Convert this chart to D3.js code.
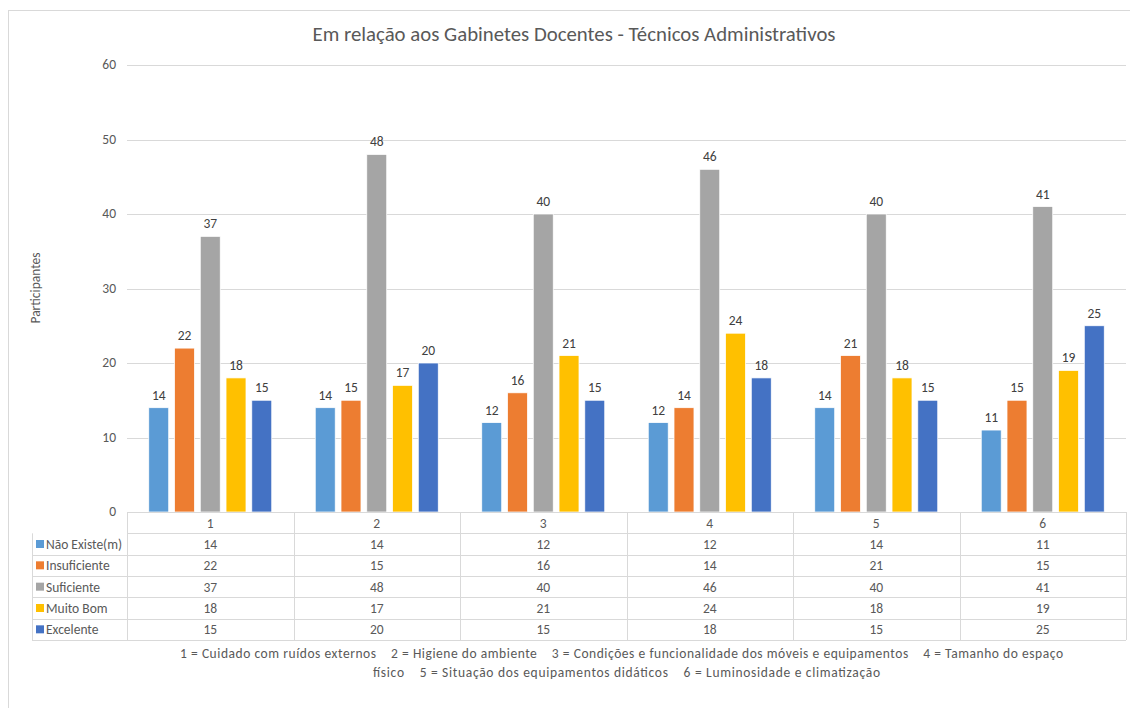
<!DOCTYPE html>
<html>
<head>
<meta charset="utf-8">
<script src="https://cdn.jsdelivr.net/npm/d3@7"></script>
<style>
  body { margin: 0; background: #fff; }
  svg text { font-family: Calibri, Carlito, Lato, sans-serif; fill: #595959; }
</style>
</head>
<body>
<svg width="1130" height="708"></svg>
<script>
// data
var categories = ["1", "2", "3", "4", "5", "6"];
var seriesNames = ["Não Existe(m)", "Insuficiente", "Suficiente", "Muito Bom", "Excelente"];
var naoExiste   = [14, 14, 12, 12, 14, 11];
var insuficiente = [22, 15, 16, 14, 21, 15];
var suficiente  = [37, 48, 40, 46, 40, 41];
var muitoBom    = [18, 17, 21, 24, 18, 19];
var excelente   = [15, 20, 15, 18, 15, 25];
var yTicks = [0, 10, 20, 30, 40, 50, 60];
var footLines = [
  "1 = Cuidado com ruídos externos    2 = Higiene do ambiente    3 = Condições e funcionalidade dos móveis e equipamentos    4 = Tamanho do espaço",
  "físico    5 = Situação dos equipamentos didáticos    6 = Luminosidade e climatização"
];

var values = [naoExiste, insuficiente, suficiente, muitoBom, excelente];
var colors = ["#5B9BD5", "#ED7D31", "#A5A5A5", "#FFC000", "#4472C4"];

var svg = d3.select("svg");
var plotLeft = 127, plotRight = 1126, plotTop = 65, plotBottom = 512;
var fs = "13.5px";

// chart border
svg.append("rect")
  .attr("x", 8.5).attr("y", 10.5)
  .attr("width", 1140).attr("height", 720)
  .attr("fill", "none").attr("stroke", "#d9d9d9");

svg.append("text")
  .attr("x", 574).attr("y", 41)
  .attr("text-anchor", "middle")
  .style("font-size", "20.8px")
  .text("Em relação aos Gabinetes Docentes - Técnicos Administrativos");

var y = d3.scaleLinear().domain([0, 60]).range([plotBottom, plotTop]);
var x0 = d3.scaleBand().domain(categories).range([plotLeft, plotRight]);
var gap = 21.75;
var x1 = d3.scaleBand().domain(seriesNames)
  .range([gap, x0.bandwidth() - gap]).paddingInner(0.225);

// gridlines
svg.append("g").selectAll("line")
  .data(yTicks.filter(d => d > 0))
  .enter().append("line")
  .attr("x1", plotLeft).attr("x2", plotRight)
  .attr("y1", d => Math.round(y(d)) + 0.5).attr("y2", d => Math.round(y(d)) + 0.5)
  .attr("stroke", "#d9d9d9");

// y tick labels
svg.append("g").selectAll("text")
  .data(yTicks)
  .enter().append("text")
  .attr("x", 116).attr("y", d => y(d) + 4)
  .attr("text-anchor", "end")
  .style("font-size", fs)
  .text(d => d);

svg.append("text")
  .attr("transform", "translate(40,288) rotate(-90)")
  .attr("text-anchor", "middle")
  .style("font-size", fs)
  .text("Participantes");

// bars
var groups = svg.append("g").selectAll("g")
  .data(seriesNames)
  .enter().append("g");

function cells(s, si) {
  return categories.map((c, ci) => ({s: s, si: si, c: c, v: values[si][ci]}));
}

groups.selectAll("rect")
  .data(cells)
  .enter().append("rect")
  .attr("x", d => x0(d.c) + x1(d.s))
  .attr("y", d => y(d.v))
  .attr("width", x1.bandwidth())
  .attr("height", d => plotBottom - y(d.v))
  .attr("fill", d => colors[d.si])
  .attr("stroke", "#fff").attr("stroke-width", 0.75);

groups.selectAll("text")
  .data(cells)
  .enter().append("text")
  .attr("x", d => x0(d.c) + x1(d.s) + x1.bandwidth() / 2)
  .attr("y", d => y(d.v) - 8)
  .attr("text-anchor", "middle")
  .style("font-size", fs)
  .style("fill", "#404040")
  .text(d => d.v);

// data table
var rowKeys = ["header"].concat(seriesNames);
var rows = d3.scaleBand().domain(rowKeys).range([plotBottom, 640]);
var tableLeft = 32;
var table = svg.append("g");

table.selectAll("line.h")
  .data(rowKeys.concat(["end"]))
  .enter().append("line")
  .attr("class", "h")
  .attr("x1", (d, i) => i < 2 ? plotLeft : tableLeft)
  .attr("x2", plotRight)
  .attr("y1", (d, i) => Math.round(plotBottom + i * rows.step()) + 0.5)
  .attr("y2", (d, i) => Math.round(plotBottom + i * rows.step()) + 0.5)
  .attr("stroke", "#d9d9d9");

table.selectAll("line.v")
  .data(categories.concat(["end"]))
  .enter().append("line")
  .attr("class", "v")
  .attr("x1", (d, i) => Math.round(plotLeft + i * x0.step()) + 0.5)
  .attr("x2", (d, i) => Math.round(plotLeft + i * x0.step()) + 0.5)
  .attr("y1", plotBottom).attr("y2", 640)
  .attr("stroke", "#d9d9d9");
table.append("line")
  .attr("x1", tableLeft + 0.5).attr("x2", tableLeft + 0.5)
  .attr("y1", rows(seriesNames[0])).attr("y2", 640)
  .attr("stroke", "#d9d9d9");

table.selectAll("text.cat")
  .data(categories)
  .enter().append("text")
  .attr("class", "cat")
  .attr("x", d => x0(d) + x0.bandwidth() / 2)
  .attr("y", rows("header") + rows.bandwidth() / 2 + 5)
  .attr("text-anchor", "middle")
  .style("font-size", fs)
  .text(d => d);

seriesNames.forEach(function(s, si) {
  var ry = rows(s) + rows.bandwidth() / 2;
  table.append("rect")
    .attr("x", 36).attr("y", ry - 4)
    .attr("width", 8).attr("height", 8)
    .attr("fill", colors[si]);
  table.append("text")
    .attr("x", 46).attr("y", ry + 5)
    .style("font-size", fs)
    .text(s);
  table.selectAll("text.v" + si)
    .data(values[si])
    .enter().append("text")
    .attr("x", (d, i) => x0(categories[i]) + x0.bandwidth() / 2)
    .attr("y", ry + 5)
    .attr("text-anchor", "middle")
    .style("font-size", fs)
    .text(d => d);
});

// footer
var footWidths = [883, 507];
svg.append("g").selectAll("text")
  .data(footLines)
  .enter().append("text")
  .attr("x", (d, i) => i === 0 ? 180 : 373)
  .attr("y", (d, i) => 658 + i * 19)
  .attr("textLength", (d, i) => footWidths[i])
  .attr("lengthAdjust", "spacing")
  .style("white-space", "pre")
  .style("font-size", fs)
  .text(d => d);
</script>
</body>
</html>
